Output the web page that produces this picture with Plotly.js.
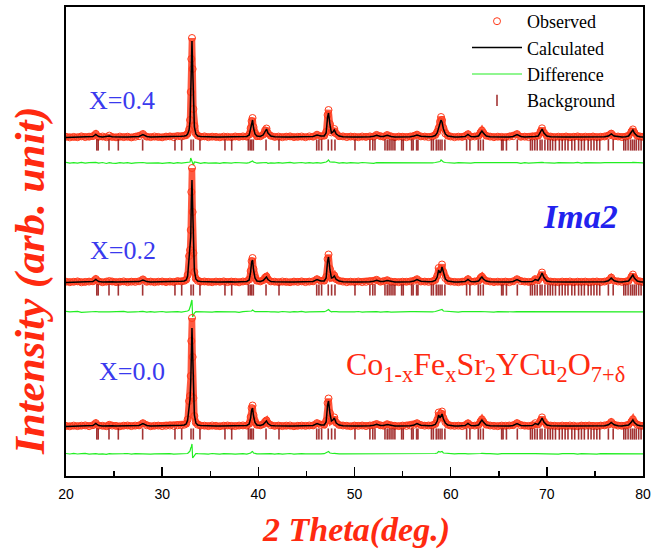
<!DOCTYPE html>
<html><head><meta charset="utf-8">
<script src="https://cdn.plot.ly/plotly-3.0.1.min.js"></script>
<style>html,body{margin:0;padding:0;background:#fff}#chart{width:660px;height:554px}</style>
</head><body><div id="chart"></div>
<script>
// 2-theta grid (deg.)
const twoTheta = [
20.0,20.4,20.8,21.2,21.6,22.0,22.4,22.8,23.1,23.4,
23.8,24.2,24.5,24.8,25.2,25.6,26.0,26.4,26.8,27.2,
27.6,28.0,28.4,28.8,29.2,29.6,30.0,30.4,30.8,31.2,
31.6,32.0,32.3,32.5,32.65,32.8,32.9,32.97,33.03,33.1,
33.17,33.25,33.35,33.5,33.7,34.0,34.4,34.8,35.2,35.6,
36.0,36.4,36.8,37.2,37.6,38.0,38.4,38.8,39.05,39.2,
39.3,39.4,39.5,39.65,39.85,40.2,40.5,40.7,40.85,41.0,
41.3,41.7,42.1,42.5,42.9,43.3,43.7,44.1,44.5,44.9,
45.3,45.7,46.1,46.5,46.85,47.05,47.2,47.3,47.45,47.6,
47.75,47.9,48.1,48.4,48.8,49.2,49.6,50.0,50.4,50.8,
51.2,51.6,52.0,52.3,52.7,53.0,53.4,53.8,54.2,54.6,
55.0,55.4,55.8,56.2,56.5,56.9,57.3,57.7,58.1,58.4,
58.6,58.75,58.9,59.0,59.1,59.25,59.45,59.7,60.0,60.4,
60.8,61.2,61.5,61.8,62.1,62.5,62.9,63.1,63.25,63.4,
63.7,64.1,64.5,64.9,65.3,65.7,66.1,66.5,66.9,67.3,
67.7,68.1,68.5,68.8,69.1,69.35,69.5,69.7,70.0,70.4,
70.8,71.2,71.6,72.0,72.4,72.8,73.2,73.6,74.0,74.4,
74.8,75.2,75.6,76.0,76.4,76.7,77.0,77.4,77.8,78.2,
78.5,78.8,78.95,79.1,79.4,79.7,80.0];

// X = 0.4
const obsX04 = [
10.2,9.6,10.1,9.8,10.6,9.9,10.3,10.9,13.1,10.3,
10.5,9.8,11.4,10.1,9.7,10.4,9.9,10.3,9.6,10.2,
10.8,13,10.3,9.9,10.5,10.1,9.7,10.4,10.6,9.9,
10.8,10.5,11.3,11.8,13.4,17.5,27,55,88,109,
78,38,21,13.5,11.3,10.2,10.6,9.8,10.3,10.1,
9.7,10.4,10.2,9.9,10.5,10.1,10.6,10.3,12.4,18.8,
26,29,20,13.4,10.8,10.7,12.3,16.6,18.5,13.7,
11.2,10.1,10.4,9.8,10.3,10.6,9.9,10.2,10.5,9.8,
10.6,10.3,12.3,10.8,11.3,15,32,37,23,14.6,
15.8,18,13.3,10.8,10.6,9.9,10.4,10.2,9.8,10.5,
10.1,10.6,10.5,12.1,10.8,10.3,12,10.6,9.9,10.4,
10.2,9.8,10.5,11.2,12.4,10.6,10.4,9.9,10.7,12,
15,19,25.5,30,27,19,13.5,11.3,10.5,9.8,
10.3,10.1,10.8,12.8,10.3,10.5,11.3,14.4,16.5,14.2,
11.3,10.4,9.8,10.3,10.1,9.9,10.4,10.8,12.9,10.2,
10.3,9.9,10.5,10.7,11.4,15.6,18.7,14.4,11.2,10.4,
9.8,10.3,10.1,10.5,9.8,10.2,10.6,9.9,10.3,10.1,
10.5,9.8,10.2,10.5,11.3,13.4,10.8,10.5,9.9,10.4,
11.3,15.4,17.6,14.5,11.2,10.5,10.2];
const calcX04 = [
9.6,9.7,9.8,9.9,10,10,10,10.5,12.5,10.5,
10,10.3,11,10.3,10,10,10,10,10,10,
10.5,12.5,10.5,10,10,10,10,10,10.2,10.3,
10.5,10.7,11,11.5,13,17,26,50,85,106,
80,40,20,13,11,10.5,10.2,10,10,10,
10,10,10,10,10,10,10.2,10.5,12,18,
25,27,19,13,11,10.5,12,16,18,14,
11,10.3,10,10,10,10,10,10,10,10,
10.2,10.5,12,11,11,14,30,34,22,14,
15,17,13,11,10.3,10,10,10,10,10,
10,10.3,10.8,11.8,10.5,10.5,11.8,10.5,10,10,
10,10,10.3,11,12,10.8,10.2,10.2,10.5,11.5,
14,18,24,27,25,18,13,11,10.3,10,
10,10,10.5,12.5,10.5,10.2,11,14,16,14,
11,10.2,10,10,10,10,10,10.5,12.5,10.5,
10,10,10.2,10.5,11,15,18,14,11,10.2,
10,10,10,10,10,10,10,10,10,10,
10,10,10,10.2,11,13,11,10.2,10,10.2,
11,15,17,14,11,10.3,10];

// X = 0.2
const obsX02 = [
10.3,9.8,10.2,10.6,9.7,10.1,10.4,10.7,13,10.6,
9.8,10.4,11,10.5,9.9,10.2,10.6,9.8,10.3,10.1,
10.7,12.6,10.2,10.4,9.8,10.3,10.5,9.9,10.4,10.1,
10.9,10.6,11.2,12.4,17,36,42,62,100,124,
80,39,20,13.3,11.2,10.3,10.5,10.1,9.8,10.4,
10.2,10.6,9.9,10.4,10.2,9.7,10.5,10.8,12.5,21,
31,34,23,14.3,11.3,10.6,11.8,14.4,15.5,12.7,
10.6,10.3,9.9,10.5,10.2,9.8,10.4,10.1,10.6,9.9,
10.4,10.7,12.8,11.2,11.3,15,33,37.5,23,14.2,
14.8,16.5,12.8,11.2,10.4,9.8,10.3,10.1,10.5,9.9,
10.2,10.6,11,12.2,10.3,10.8,11.8,10.4,10.1,9.8,
10.3,10.2,10.6,11.3,12.8,10.5,10.4,10.1,10.7,12,
16,24,21,23,27.5,20,13.8,11.2,10.5,10.1,
9.8,10.3,10.7,12.8,10.4,10.5,11.3,14,15.4,13.3,
11.2,10.5,9.9,10.3,10.1,10.4,9.8,10.7,12.8,10.8,
10.4,10.1,10.6,12.9,11.8,16,19.5,14.8,11.3,10.4,
10.1,9.8,10.4,10.2,10.5,9.9,10.3,10.1,10.4,9.8,
10.3,10.5,9.9,10.4,11.5,14.4,11.3,10.5,10.1,10.4,
11.2,15.3,17.5,14.3,11.2,10.6,10.1];
const calcX02 = [
9.6,9.7,9.8,9.9,10,10,10,10.5,12.5,10.5,
10,10.2,10.8,10.2,10,10,10,10,10,10,
10.4,12,10.4,10,10,10,10,10,10.2,10.3,
10.5,10.7,11,12,16,34,38,55,90,112,
85,42,21,13,11,10.5,10.2,10,10,10,
10,10.2,10,10.2,10,10,10.2,10.5,12,20,
30,32,22,14,11,10.5,11.5,14,15,12.5,
10.5,10.2,10,10,10,10,10,10,10,10,
10.2,10.5,12.5,11,11,14,31,35,22,14,
14.5,16,12.5,11,10.3,10,10,10,10,10,
10,10.3,10.8,11.8,10.5,10.5,11.5,10.5,10,10,
10,10,10.3,11,12.5,10.8,10.2,10.2,10.5,11.5,
15,22,19,21,25,19,13,11,10.3,10,
10,10,10.5,12.5,10.5,10.2,11,13.5,15,13,
11,10.2,10,10,10,10,10,10.5,12.5,10.5,
10.2,10.2,10.5,12.5,11.5,15.5,19,14.5,11,10.2,
10,10,10,10,10,10,10,10,10,10,
10,10,10,10.2,11.2,14,11.2,10.2,10,10.2,
11,15,17,14,11,10.3,10];

// X = 0.0
const obsX00 = [
10.1,9.7,10.4,9.9,10.3,10.6,9.8,10.8,12.9,10.4,
10.2,9.8,11.2,10.4,10.1,9.7,10.3,10.5,9.9,10.4,
10.6,12.8,10.7,9.8,10.2,10.4,9.9,10.3,10.5,10.2,
10.7,10.9,11.3,12.3,16.5,35,40,60,95,118,
79,38,20,13.4,11.3,10.4,10.3,9.9,10.5,10.2,
9.8,10.3,10.5,10.1,9.9,10.4,10.6,10.4,12.3,19,
28,30.5,21,14,11.2,10.7,11.8,14.3,15.6,12.8,
10.8,10.1,10.4,9.9,10.3,10.5,9.8,10.2,10.4,10.1,
10.5,10.6,12.9,11.2,11.3,15,33,37.5,23,15.4,
16.5,18.6,13.3,11.1,10.5,10.2,9.8,10.4,10.1,10.5,
9.9,10.5,11,12,10.7,10.3,11.8,10.6,10.2,9.9,
10.4,10.1,10.5,11.3,12.8,11,10.3,10.5,10.8,12,
16,23.5,20,22.5,24.5,18,13.8,11.3,10.4,10.1,
10.3,9.9,10.8,12.7,10.6,10.4,11.2,14.5,16.6,14.3,
11.3,10.5,10.1,9.8,10.4,10.2,10.5,10.8,12.9,10.7,
10.3,10.1,10.8,12.8,11.7,15.5,18.6,14.4,11.2,10.4,
10.2,9.9,10.4,10.1,10.5,10.3,9.8,10.4,10.2,10.5,
10.1,9.9,10.4,10.6,11.5,14,11.4,10.4,10.2,10.5,
11.3,14.4,16.6,13.8,11.3,10.4,10.2];
const calcX00 = [
9.6,9.7,9.8,9.9,10,10,10,10.5,12.5,10.5,
10,10.2,10.8,10.2,10,10,10,10,10,10,
10.5,12.5,10.5,10,10,10,10,10,10.2,10.3,
10.5,10.7,11,12,16,33,37,54,88,108,
83,41,21,13,11,10.5,10.2,10,10,10,
10,10,10,10,10,10,10.2,10.5,12,18,
26,28,20,13.5,11,10.5,11.5,14,15,12.5,
10.5,10.2,10,10,10,10,10,10,10,10,
10.2,10.5,12.5,11,11,14,31,35,22,15,
16,18,13,11,10.3,10,10,10,10,10,
10,10.3,10.8,11.8,10.5,10.5,11.5,10.5,10,10,
10,10,10.3,11,12.5,10.8,10.2,10.2,10.5,11.5,
15,21,18,20,22,17,13,11,10.3,10,
10,10,10.5,12.5,10.5,10.2,11,14,16,14,
11,10.2,10,10,10,10,10,10.5,12.5,10.5,
10.2,10.2,10.5,12.5,11.5,15,18,14,11,10.2,
10,10,10,10,10,10,10,10,10,10,
10,10,10,10.2,11.2,13.5,11.2,10.2,10,10.2,
11,14,16,13.5,11,10.3,10];

// Bragg reflection positions (deg.)
const braggPos = [23.2,23.35,24.47,25.44,27.97,31.33,32.03,33.0,33.24,33.93,
36.53,37.23,38.96,39.15,39.3,39.48,40.8,42.15,46.07,46.3,46.58,47.27,47.62,47.97,
50.05,51.6,51.9,52.13,53.17,53.4,53.6,53.8,54.0,54.2,54.9,55.07,55.94,56.1,56.46,56.6,
58.0,58.2,58.5,58.7,58.9,59.1,59.4,61.66,62.0,62.87,63.1,63.39,65.3,65.45,65.8,66.93,
68.3,68.5,68.75,69.0,69.3,69.5,69.8,70.1,70.35,70.6,70.9,71.3,71.6,71.9,72.2,72.6,
72.9,73.3,73.6,73.9,74.3,74.6,74.9,75.2,75.5,76.4,76.9,78.0,78.2,78.45,78.7,78.9,
79.1,79.3,79.55,79.8];

const sampleLabels = ['X=0.4','X=0.2','X=0.0'];
const xTickVals = [20,30,40,50,60,70,80];
const legendNames = ['Observed','Calculated','Difference','Background'];

// stacking (layout)
const sets = [
  {obs: obsX04, calc: calcX04, off: 329, dOff: 313},
  {obs: obsX02, calc: calcX02, off: 184, dOff: 164},
  {obs: obsX00, calc: calcX00, off: 40,  dOff: 22}
];
const RED = '#ff3a1a', GREEN = '#22ee22', BRG = 'rgba(140,0,0,0.8)';
const traces = [];
sets.forEach((s, i) => {
  const first = i === 0;
  const yo = s.obs.map(v => v + s.off);
  const yc = s.calc.map(v => v + s.off);
  const yd = s.obs.map((v, k) => v - s.calc[k] + s.dOff);
  const yb = braggPos.map(() => s.off + 2);
  traces.push({x: twoTheta, y: yo, mode: 'lines', line: {color: 'rgba(255,60,30,0.85)', width: 6.5}, showlegend: false, hoverinfo: 'skip'});
  traces.push({x: twoTheta, y: yo, mode: 'markers', name: legendNames[0], legendrank: 1, showlegend: first,
    marker: {symbol: 'circle-open', size: 7, color: RED, line: {width: 1, color: RED}}});
  traces.push({x: twoTheta, y: yc, mode: 'lines', name: legendNames[1], legendrank: 2, showlegend: first,
    line: {color: '#000', width: 1.5}});
  traces.push({x: twoTheta, y: yd, mode: 'lines', name: legendNames[2], legendrank: 3, showlegend: first,
    line: {color: GREEN, width: 1.2}});
  traces.push({x: braggPos, y: yb, mode: 'markers', name: legendNames[3], legendrank: 4, showlegend: first,
    marker: {symbol: 'line-ns', size: 8, color: BRG, line: {width: 1.6, color: BRG}}});
});

const W = 577, H = 469, L = 66, T = 7;
const px = x => (x - L) / W, py = y => (T + H - y) / H;
const blue = '#3a3aee';
const ann = (text, x, y, size, color, extra) => Object.assign({text, x: px(x), y: py(y), xref: 'paper', yref: 'paper',
  xanchor: 'center', yanchor: 'middle', showarrow: false, font: {family: 'Liberation Serif, Times New Roman, serif', size, color}}, extra || {});
const layout = {
  width: 660, height: 554,
  margin: {l: 66, r: 17, t: 7, b: 78, autoexpand: false},
  paper_bgcolor: '#fff', plot_bgcolor: '#fff',
  showlegend: true,
  legend: {x: px(467), y: py(3), xanchor: 'left', yanchor: 'top', bgcolor: 'rgba(0,0,0,0)',
    font: {family: 'Liberation Serif, Times New Roman, serif', size: 18, color: '#000'}, itemwidth: 50, tracegroupgap: 0},
  xaxis: {range: [20, 80], tickvals: xTickVals, ticktext: xTickVals.map(String), ticks: 'inside', ticklen: 9, tickwidth: 1.5,
    tickcolor: '#000', minor: {dtick: 5, tick0: 20, ticks: 'inside', ticklen: 5, tickwidth: 1.5, tickcolor: '#000'},
    showline: true, linecolor: '#000', linewidth: 2, mirror: true, showgrid: false, zeroline: false, ticklabelstandoff: 4,
    tickfont: {family: 'Liberation Sans, Arial, sans-serif', size: 14, color: '#000'}},
  yaxis: {range: [0, 469], showticklabels: false, ticks: '', showline: true, linecolor: '#000', linewidth: 2,
    mirror: true, showgrid: false, zeroline: false},
  annotations: [
    ann(sampleLabels[0], 122, 100, 26, blue),
    ann(sampleLabels[1], 123, 250, 26, blue),
    ann(sampleLabels[2], 132, 371, 26, blue),
    ann('<b><i>Ima2</i></b>', 580, 217, 34, '#2222ee'),
    ann('Co<sub>1-x</sub>Fe<sub>x</sub>Sr<sub>2</sub>YCu<sub>2</sub>O<sub>7+δ</sub>', 344, 366, 32, '#ff2a10', {xanchor: 'left'}),
    ann('<b><i>Intensity (arb. unit)</i></b>', 30, 281, 43, '#ff2a10', {textangle: -90}),
    ann('<b><i>2 Theta(deg.)</i></b>', 356, 530, 34, '#ff2a10')
  ]
};
Plotly.newPlot('chart', traces, layout, {displayModeBar: false, staticPlot: true});
</script>
</body></html>
